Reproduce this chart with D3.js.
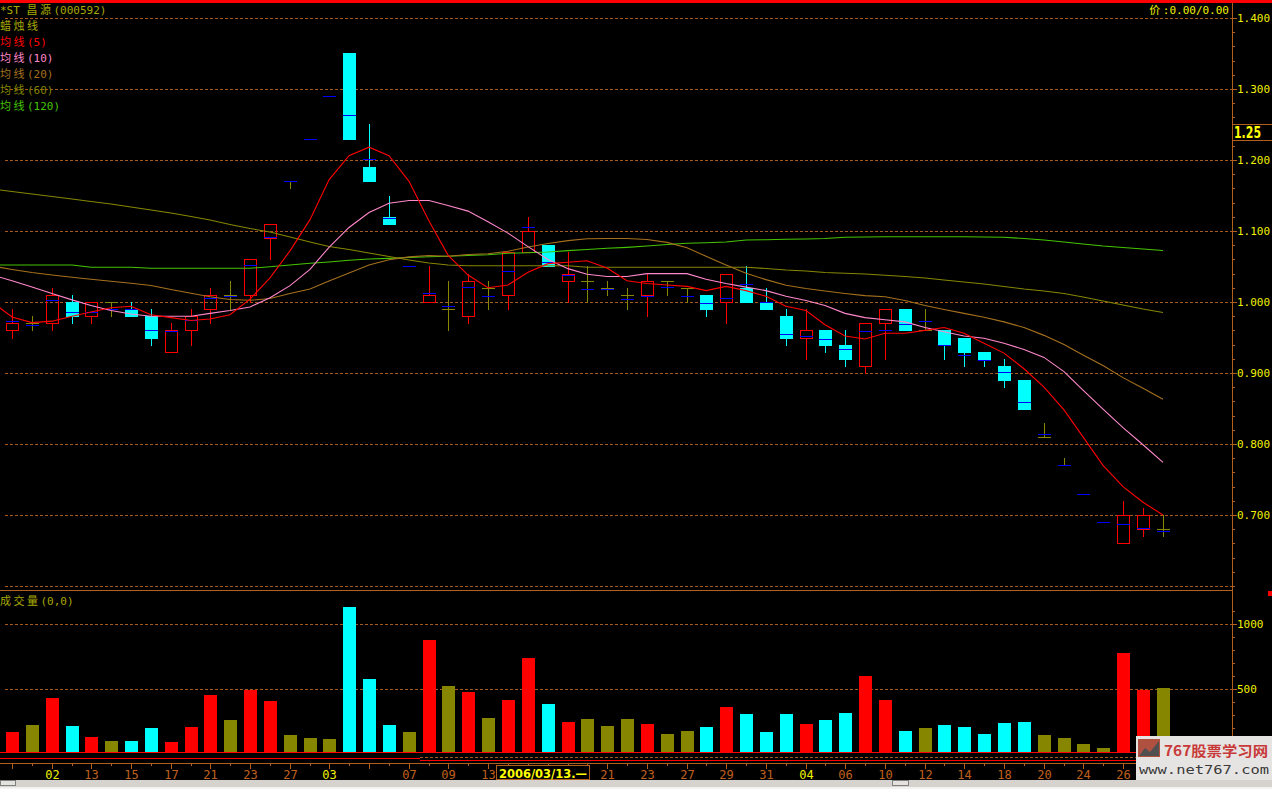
<!DOCTYPE html>
<html><head><meta charset="utf-8">
<script src="https://cdn.jsdelivr.net/npm/d3@7"></script>
<style>body{margin:0;background:#000;overflow:hidden}svg{display:block}</style>
</head><body><svg id="c" width="1272" height="789"></svg>
<script>
// ---------------- data ----------------
const open  = [0.96,0.97,0.97,1.00,0.98,1.00,0.99,0.98,0.93,0.96, 0.99,1.01,1.01,1.09,1.17,1.23,1.29,1.35,1.19,1.12, 1.05,1.00,0.99,0.98,1.02,1.01,1.07,1.08,1.03,1.03, 1.02,1.01,1.01,1.03,1.02,1.01,1.00,1.02,1.00,0.98, 0.95,0.96,0.94,0.91,0.97,0.99,0.96,0.96,0.95,0.93, 0.91,0.89,0.81,0.77,0.73,0.69,0.66,0.68,0.68];
const high  = [0.99,0.98,1.02,1.01,1.00,1.00,1.00,0.99,0.97,0.99, 1.02,1.03,1.06,1.11,1.17,1.23,1.29,1.35,1.25,1.15, 1.05,1.05,1.03,1.04,1.03,1.07,1.12,1.08,1.07,1.05, 1.03,1.02,1.04,1.03,1.02,1.01,1.04,1.05,1.02,0.99, 0.99,0.96,0.96,0.97,0.99,0.99,0.99,0.96,0.95,0.93, 0.92,0.89,0.83,0.78,0.73,0.69,0.72,0.71,0.70];
const low   = [0.95,0.96,0.96,0.97,0.97,0.98,0.98,0.94,0.93,0.94, 0.97,0.99,1.00,1.06,1.16,1.23,1.29,1.23,1.17,1.11, 1.05,1.00,0.96,0.97,0.99,0.99,1.07,1.05,1.00,1.00, 1.01,0.99,0.98,1.01,1.00,0.98,0.97,1.00,0.99,0.94, 0.92,0.93,0.91,0.90,0.92,0.96,0.96,0.92,0.91,0.91, 0.88,0.85,0.81,0.77,0.73,0.69,0.66,0.67,0.67];
const close = [0.97,0.97,1.01,0.98,1.00,1.00,0.98,0.95,0.96,0.98, 1.01,1.01,1.06,1.11,1.17,1.23,1.29,1.23,1.17,1.11, 1.05,1.01,0.99,1.03,1.02,1.07,1.10,1.05,1.04,1.03, 1.02,1.01,1.03,1.03,1.02,0.99,1.04,1.00,0.99,0.95, 0.96,0.94,0.92,0.97,0.99,0.96,0.96,0.94,0.93,0.92, 0.89,0.85,0.81,0.77,0.73,0.69,0.70,0.70,0.68];
// blue mark (average price) of each day
const avgPrice = [0.973,0.968,1.003,0.986,0.986,0.990,0.990,0.960,0.959,0.974, 1.005,1.008,1.052,1.092,1.170,1.230,1.290,1.264,1.202,1.119, 1.050,1.012,0.995,1.021,1.009,1.044,1.105,1.056,1.038,1.018, 1.018,1.004,1.009,1.021,1.008,0.998,1.005,1.025,1.000,0.955, 0.952,0.948,0.934,0.959,0.960,0.969,0.973,0.939,0.925,0.919, 0.901,0.859,0.814,0.770,0.730,0.690,0.687,0.681,0.677];
const volume = [166,220,430,213,128,97,97,197,89,205, 453,259,491,406,143,120,112,1134,577,220, 166,878,522,476,275,414,739,383,244,267, 213,267,228,151,174,205,360,306,166,306, 228,259,313,600,414,174,197,220,205,151, 236,244,143,120,74,43,778,491,507];
// moving averages: first value belongs to the day before the visible window
const ma5   = [1.000, 0.979,0.971,0.973,0.980,0.986,0.992,0.994,0.982,0.978,0.974, 0.976,0.982,1.004,1.034,1.072,1.116,1.172,1.206,1.218,1.206, 1.170,1.114,1.066,1.038,1.020,1.024,1.042,1.054,1.056,1.058, 1.048,1.030,1.026,1.024,1.022,1.016,1.022,1.016,1.008,0.994, 0.988,0.968,0.952,0.948,0.956,0.956,0.960,0.964,0.956,0.942, 0.928,0.906,0.880,0.848,0.810,0.770,0.740,0.718,0.700];
const ma10  = [1.038, 1.030,1.021,1.012,1.003,0.995,0.988,0.983,0.980,0.980,0.980, 0.984,0.988,0.993,1.006,1.023,1.046,1.077,1.105,1.126,1.139, 1.143,1.143,1.136,1.128,1.113,1.097,1.078,1.060,1.047,1.039, 1.036,1.036,1.040,1.040,1.040,1.032,1.026,1.021,1.016,1.008, 1.002,0.995,0.984,0.978,0.975,0.972,0.964,0.958,0.952,0.949, 0.942,0.933,0.922,0.902,0.876,0.849,0.823,0.799,0.774];
const ma20  = [1.0507, 1.0458,1.0415,1.0380,1.0348,1.0320,1.0292,1.0263,1.0232,1.0176,1.0123, 1.0075,1.0035,1.0024,1.0049,1.0120,1.0183,1.0296,1.0408,1.0521,1.0595, 1.0635,1.0655,1.0645,1.0670,1.0680,1.0715,1.0775,1.0825,1.0865,1.0890, 1.0895,1.0895,1.0880,1.0840,1.0765,1.0645,1.0520,1.0405,1.0315,1.0235, 1.0190,1.0155,1.0120,1.0090,1.0075,1.0020,0.9950,0.9895,0.9840,0.9785, 0.9720,0.9640,0.9530,0.9400,0.9255,0.9105,0.8935,0.8785,0.8630];
const ma60  = [1.1592, 1.1556,1.1521,1.1486,1.1451,1.1415,1.1380,1.1338,1.1296,1.1254,1.1204, 1.1155,1.1092,1.1035,1.0986,1.0915,1.0845,1.0782,1.0739,1.0690,1.0641, 1.0592,1.0549,1.0521,1.0511,1.0511,1.0511,1.0511,1.0511,1.0511,1.0489, 1.0489,1.0489,1.0489,1.0489,1.0489,1.0489,1.0489,1.0489,1.0472,1.0451, 1.0437,1.0415,1.0404,1.0394,1.0376,1.0359,1.0338,1.0310,1.0282,1.0254, 1.0218,1.0183,1.0155,1.0120,1.0070,1.0014,0.9958,0.9901,0.9852];
const ma120 = [1.0521, 1.0521,1.0521,1.0521,1.0521,1.0489,1.0489,1.0489,1.0475,1.0475,1.0475, 1.0475,1.0475,1.0475,1.0497,1.0521,1.0545,1.0563,1.0587,1.0606,1.0615, 1.0627,1.0638,1.0644,1.0655,1.0666,1.0686,1.0694,1.0704,1.0723,1.0739, 1.0756,1.0770,1.0789,1.0810,1.0827,1.0835,1.0845,1.0873,1.0877,1.0883, 1.0887,1.0894,1.0911,1.0915,1.0920,1.0920,1.0920,1.0920,1.0920,1.0915, 1.0911,1.0894,1.0873,1.0845,1.0817,1.0789,1.0768,1.0746,1.0725];
// x-axis labels (candle index -> day)
const xLabelIdx = [2,4,6,8,10,12,14,16,20,22,24,30,32,34,36,38,40,42,44,46,48,50,52,54,56];
const xLabelTxt = ["02","13","15","17","21","23","27","03","07","09","13","21","23","27","29","31","04","06","10","12","14","18","20","24","26"];
const monthStartIdx = [2,16,40];
const priceMajor = [0.6,0.7,0.8,0.9,1.0,1.1,1.2,1.3,1.4];
const volMajor = [500,1000];
const maNames = ["均线(5)","均线(10)","均线(20)","均线(60)","均线(120)"];

// ---------------- drawing ----------------
const W = 1272, H = 789, AX = 1232;
const C = {red:'#ff0000', cyan:'#00ffff', olive:'#868600', blue:'#0000ff', grid:'#a65a1e', axis:'#b0601c',
  yellow:'#f0f000', brown:'#c0601c', title:'#a8a800'};
const maColors = ['#ff0000','#ff88cc','#a5701e','#868600','#44c400'];
const svg = d3.select('#c');
svg.append('rect').attr('width',W).attr('height',H).attr('fill','#000');

const x  = d3.scaleLinear().domain([0,58]).range([12,1162.7]).interpolate(d3.interpolateRound);
const yP = d3.scaleLinear().domain([0.6,1.4]).range([586,18]);
const yV = d3.scaleLinear().domain([0,1000]).range([753.5,624.3]);
const ry = v => Math.round(v);

function mixText(g, str, px, py, color, anchor){
  const t = g.append('text').attr('x',px).attr('y',py).attr('fill',color).attr('text-anchor',anchor||'start');
  const re = /([\u2E80-\u9FFF\uFF00-\uFFEF]+)|([^\u2E80-\u9FFF\uFF00-\uFFEF]+)/g;
  let m;
  while((m = re.exec(str))){
    if(m[1]) t.append('tspan').attr('font-family','"Noto Sans CJK SC"').attr('font-size',11).attr('letter-spacing',2.5).text(m[1]);
    else t.append('tspan').attr('font-family','"DejaVu Sans Mono"').attr('font-size',11).text(m[2]);
  }
  return t;
}

// top red bar
svg.append('rect').attr('x',0).attr('y',0).attr('width',W).attr('height',3).attr('fill',C.red);

// price grid (dashed)
const grid = svg.append('g').attr('shape-rendering','crispEdges');
grid.selectAll('line.p').data(priceMajor).join('line')
  .attr('x1',5).attr('x2',AX).attr('y1',d=>ry(yP(d))+0.5).attr('y2',d=>ry(yP(d))+0.5)
  .attr('stroke',C.grid).attr('stroke-dasharray','3,2');
grid.selectAll('line.v').data(volMajor).join('line')
  .attr('x1',5).attr('x2',AX).attr('y1',d=>ry(yV(d))+0.5).attr('y2',d=>ry(yV(d))+0.5)
  .attr('stroke',C.grid).attr('stroke-dasharray','3,2');

// panel divider & axis lines
svg.append('line').attr('x1',0).attr('x2',AX).attr('y1',590.5).attr('y2',590.5).attr('stroke',C.axis);
svg.append('line').attr('x1',AX+0.5).attr('x2',AX+0.5).attr('y1',3).attr('y2',763).attr('stroke',C.axis);

// bottom strip lines
svg.append('line').attr('x1',0).attr('x2',AX).attr('y1',752.5).attr('y2',752.5).attr('stroke',C.red);
svg.append('line').attr('x1',0).attr('x2',420).attr('y1',758.5).attr('y2',758.5).attr('stroke',C.red);
svg.append('line').attr('x1',420).attr('x2',AX).attr('y1',760.5).attr('y2',760.5).attr('stroke',C.red);
svg.append('line').attr('x1',420).attr('x2',AX).attr('y1',757.5).attr('y2',757.5).attr('stroke',C.grid).attr('stroke-dasharray','3,2');

// volume bars
const idx = d3.range(open.length);
const colorOf = i => close[i]>open[i] ? C.red : (close[i]<open[i] ? C.cyan : C.olive);
svg.append('g').attr('shape-rendering','crispEdges').selectAll('rect').data(idx).join('rect')
  .attr('x',i=>x(i)-6).attr('width',13)
  .attr('y',i=>ry(yV(volume[i]))).attr('height',i=>752-ry(yV(volume[i])))
  .attr('fill',colorOf);

// candles
const cg = svg.append('g').attr('shape-rendering','crispEdges');
idx.forEach(i=>{
  const cx = x(i), yo = ry(yP(open[i])), yc = ry(yP(close[i])), yh = ry(yP(high[i])), yl = ry(yP(low[i]));
  if(close[i]>open[i]){
    if(yh<yc) cg.append('line').attr('x1',cx+0.5).attr('x2',cx+0.5).attr('y1',yh).attr('y2',yc).attr('stroke',C.red).attr('stroke-width',1);
    if(yl>yo) cg.append('line').attr('x1',cx+0.5).attr('x2',cx+0.5).attr('y1',yo).attr('y2',yl+1).attr('stroke',C.red).attr('stroke-width',1);
    cg.append('rect').attr('x',cx-5.5).attr('y',yc+0.5).attr('width',12).attr('height',yo-yc)
      .attr('fill','none').attr('stroke',C.red).attr('stroke-width',1);
  } else if(close[i]<open[i]){
    cg.append('line').attr('x1',cx+0.5).attr('x2',cx+0.5).attr('y1',yh).attr('y2',yl+1).attr('stroke',C.cyan);
    cg.append('rect').attr('x',cx-6).attr('y',yo).attr('width',13).attr('height',yc-yo+1).attr('fill',C.cyan);
  } else {
    cg.append('line').attr('x1',cx+0.5).attr('x2',cx+0.5).attr('y1',yh).attr('y2',yl+1).attr('stroke',C.olive);
    cg.append('line').attr('x1',cx-6).attr('x2',cx+7).attr('y1',yc+0.5).attr('y2',yc+0.5).attr('stroke',C.olive);
  }
  const ya = ry(yP(avgPrice[i]));
  cg.append('line').attr('x1',cx-6).attr('x2',cx+7).attr('y1',ya+0.5).attr('y2',ya+0.5).attr('stroke',C.blue);
});

// moving average lines
svg.append('clipPath').attr('id','pc').append('rect').attr('x',0).attr('y',3).attr('width',AX).attr('height',586);
const line = d3.line().x((d,i)=>x(i-1)).y(d=>yP(d));
const mg = svg.append('g').attr('clip-path','url(#pc)');
[ma120,ma60,ma20,ma10,ma5].forEach((arr,k)=>{
  mg.append('path').attr('d',line(arr)).attr('fill','none').attr('stroke',maColors[4-k]).attr('stroke-width',1.1);
});

// price axis
const paxMinor = d3.axisRight(yP).tickValues(d3.range(30,71).map(d=>d/50)).tickSize(3).tickFormat('');
const paxMajor = d3.axisRight(yP).tickValues(priceMajor.filter(d=>d>0.65)).tickSize(5).tickPadding(0).tickFormat(d3.format('.3f'));
[paxMinor,paxMajor].forEach(a=>{
  const g = svg.append('g').attr('transform',`translate(${AX},0)`).attr('shape-rendering','crispEdges').call(a);
  g.select('.domain').remove();
  g.selectAll('line').attr('stroke',C.axis);
  g.selectAll('text').attr('fill',C.yellow).attr('font-family','"DejaVu Sans Mono"').attr('font-size',11);
});
// volume axis
const vaxMinor = d3.axisRight(yV).tickValues(d3.range(100,1101,100)).tickSize(3).tickFormat('');
const vaxMajor = d3.axisRight(yV).tickValues(volMajor).tickSize(5).tickPadding(0).tickFormat(d3.format('d'));
[vaxMinor,vaxMajor].forEach(a=>{
  const g = svg.append('g').attr('transform',`translate(${AX},0)`).attr('shape-rendering','crispEdges').call(a);
  g.select('.domain').remove();
  g.selectAll('line').attr('stroke',C.axis);
  g.selectAll('text').attr('fill',C.yellow).attr('font-family','"DejaVu Sans Mono"').attr('font-size',11);
});

// x axis
svg.append('line').attr('x1',0).attr('x2',W).attr('y1',763.5).attr('y2',763.5).attr('stroke',C.axis);
const xaxMinor = d3.axisBottom(x).tickValues(idx).tickSize(3).tickFormat('');
const lblMap = new Map(xLabelIdx.map((d,k)=>[d,xLabelTxt[k]]));
const xaxMajor = d3.axisBottom(x).tickValues(idx.filter(i=>i%2===0)).tickSize(6).tickFormat(i=>lblMap.get(i)||'');
[xaxMinor,xaxMajor].forEach(a=>{
  const g = svg.append('g').attr('transform','translate(0,763)').attr('shape-rendering','crispEdges').call(a);
  g.select('.domain').remove();
  g.selectAll('line').attr('stroke',C.axis);
  g.selectAll('text').attr('y',16).attr('dy',0).attr('font-family','"DejaVu Sans Mono"').attr('font-size',12)
    .attr('fill',d=>monthStartIdx.includes(d)?C.yellow:C.brown);
});
// selected date box
svg.append('rect').attr('x',496.5).attr('y',765.5).attr('width',93).attr('height',14).attr('fill','#000').attr('stroke',C.axis);
svg.append('text').attr('x',499).attr('y',778).attr('fill','#ffff00').attr('font-family','"DejaVu Sans Condensed"')
  .attr('font-weight','bold').attr('font-size',13).attr('textLength',88).attr('lengthAdjust','spacingAndGlyphs').text('2006/03/13.—');

// scroll strip at bottom
svg.append('rect').attr('x',0).attr('y',780).attr('width',W).attr('height',7).attr('fill','#d6d3ce');
svg.append('rect').attr('x',0).attr('y',787).attr('width',W).attr('height',2).attr('fill','#f2f2f2');
svg.append('rect').attr('x',0.5).attr('y',780.5).attr('width',15).attr('height',5).attr('fill','#e4e2de').attr('stroke','#808080');
svg.append('rect').attr('x',892.5).attr('y',780.5).attr('width',16).attr('height',5).attr('fill','#e4e2de').attr('stroke','#808080');

// titles / legends
const tg = svg.append('g');
mixText(tg,'*ST 昌源(000592)',0,14,C.title);
mixText(tg,'蜡烛线',0,30,C.title);
maNames.forEach((n,k)=>mixText(tg,n,0,46+16*k,maColors[k]));
mixText(tg,'价:0.00/0.00',1229,14,C.yellow,'end');
mixText(tg,'成交量(0,0)',0,605,C.title);

// current price box
svg.append('rect').attr('x',AX+0.5).attr('y',124.5).attr('width',40).attr('height',16).attr('fill','#000').attr('stroke',C.axis);
svg.append('text').attr('x',1234).attr('y',138).attr('fill','#ffff00').attr('font-family','"DejaVu Sans"').attr('font-weight','bold')
  .attr('font-size',15).attr('textLength',27).attr('lengthAdjust','spacingAndGlyphs').text('1.25');
// red marker
svg.append('rect').attr('x',1268).attr('y',591).attr('width',4).attr('height',5).attr('fill',C.red);

// watermark
const wm = svg.append('g');
wm.append('rect').attr('x',1136).attr('y',736).attr('width',136).attr('height',44).attr('fill','#e6e4e2');
wm.append('rect').attr('x',1138).attr('y',739).attr('width',22).attr('height',18).attr('fill','#b05040');
wm.append('path').attr('d','M1139,756 L1145,748 L1150,752 L1159,741 L1159,756 Z').attr('fill','#505050');
wm.append('text').attr('x',1164).attr('y',756).attr('fill','#c83a3a').attr('font-family','"Noto Sans CJK SC"').attr('font-weight','bold')
  .attr('font-size',14).attr('textLength',104).attr('lengthAdjust','spacingAndGlyphs').text('767股票学习网');
wm.append('text').attr('x',1139).attr('y',774).attr('fill','#3a3a3a').attr('font-family','"DejaVu Sans Mono"')
  .attr('font-size',12).attr('textLength',130).attr('lengthAdjust','spacingAndGlyphs').text('www.net767.com');
</script></body></html>
